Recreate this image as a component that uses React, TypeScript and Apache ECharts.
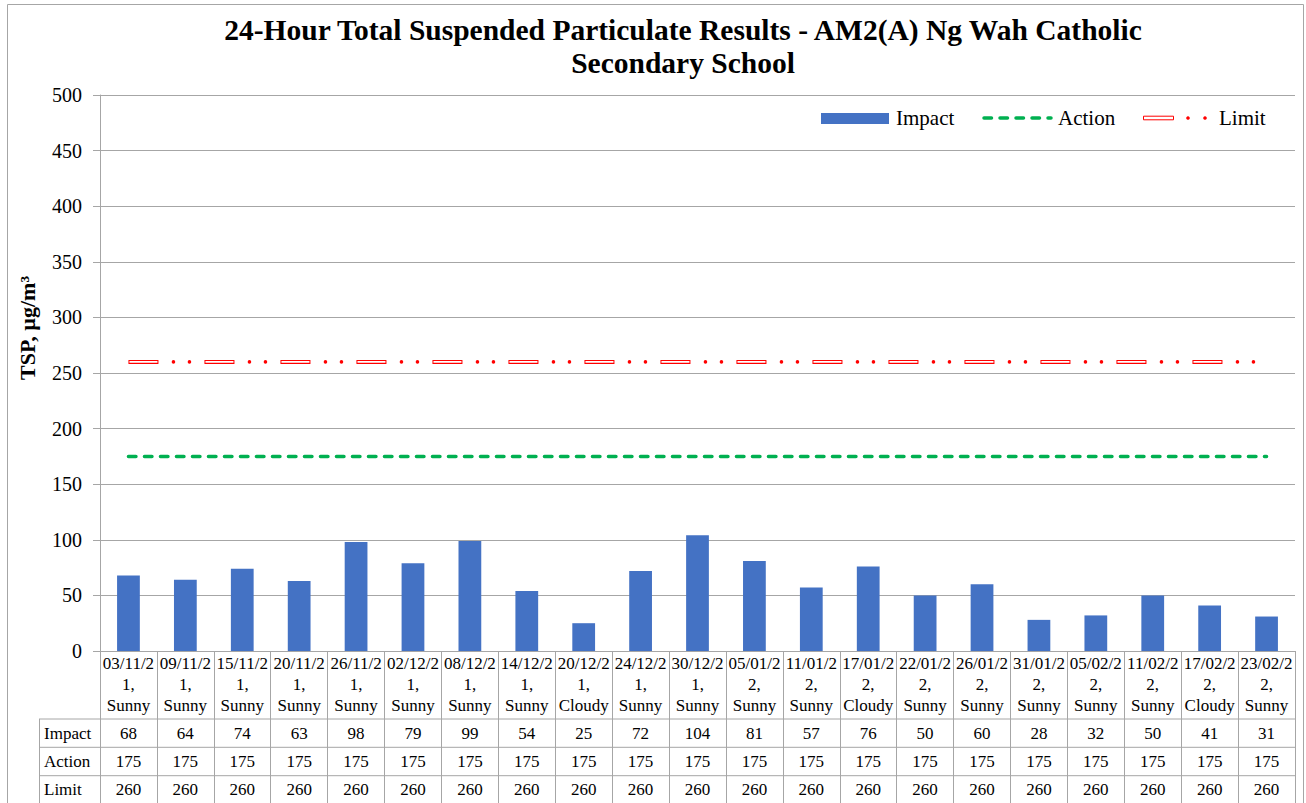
import React, { useEffect, useRef } from "react";
import * as echarts from "echarts";

const dates = ["03/11/21", "09/11/21", "15/11/21", "20/11/21", "26/11/21", "02/12/21", "08/12/21", "14/12/21", "20/12/21", "24/12/21", "30/12/21", "05/01/22", "11/01/22", "17/01/22", "22/01/22", "26/01/22", "31/01/22", "05/02/22", "11/02/22", "17/02/22", "23/02/22"];
const weather = ["Sunny", "Sunny", "Sunny", "Sunny", "Sunny", "Sunny", "Sunny", "Sunny", "Cloudy", "Sunny", "Sunny", "Sunny", "Sunny", "Cloudy", "Sunny", "Sunny", "Sunny", "Sunny", "Sunny", "Cloudy", "Sunny"];
const impact = [68, 64, 74, 63, 98, 79, 99, 54, 25, 72, 104, 81, 57, 76, 50, 60, 28, 32, 50, 41, 31];
const action = [175, 175, 175, 175, 175, 175, 175, 175, 175, 175, 175, 175, 175, 175, 175, 175, 175, 175, 175, 175, 175];
const limit = [260, 260, 260, 260, 260, 260, 260, 260, 260, 260, 260, 260, 260, 260, 260, 260, 260, 260, 260, 260, 260];
const yTicks = { min: 0, max: 500, interval: 50 };

const FONT = "'Liberation Serif', 'Times New Roman', serif";
const GRAY = "#a6a6a6";

export default function App() {
  const ref = useRef<HTMLDivElement>(null);
  useEffect(() => {
    const chart = echarts.init(ref.current!, null, { renderer: "svg" });
    const labels = dates.map((d, i) => d.slice(0, 7) + "\n" + d.slice(7) + ",\n" + weather[i]);
    chart.setOption({
      animation: false,
      backgroundColor: "#fff",
      title: {
        text: "24-Hour Total Suspended Particulate Results - AM2(A) Ng Wah Catholic\nSecondary School",
        left: 678,
        top: 8,
        textAlign: "center",
        textStyle: { fontFamily: FONT, fontSize: 29.5, fontWeight: "bold", lineHeight: 33, color: "#000" },
      },
      grid: { left: 100, right: 11, top: 95, bottom: 152, containLabel: false },
      xAxis: {
        type: "category",
        data: labels,
        boundaryGap: true,
        axisLine: { lineStyle: { color: GRAY, width: 1 } },
        axisTick: { show: true, interval: 0, length: 155, lineStyle: { color: GRAY, width: 1 } },
        axisLabel: { interval: 0, margin: 2, fontFamily: FONT, fontSize: 17, lineHeight: 21, color: "#000" },
        splitLine: { show: false },
      },
      yAxis: {
        type: "value",
        min: yTicks.min,
        max: yTicks.max,
        interval: yTicks.interval,
        axisLine: { show: true, lineStyle: { color: GRAY, width: 1 } },
        axisTick: { show: true, length: 7, lineStyle: { color: GRAY } },
        axisLabel: { fontFamily: FONT, fontSize: 20, color: "#000", margin: 18 },
        splitLine: { lineStyle: { color: GRAY, width: 1 } },
      },
      series: [
        { name: "Impact", type: "bar", data: impact, barWidth: "40%", itemStyle: { color: "#4472C4" } },
        {
          name: "Action", type: "line", data: action, symbol: "none", silent: true,
          lineStyle: { color: "#00B050", width: 3.5, type: [7.5, 8.5], cap: "round" },
        },
        {
          name: "Limit", type: "line", data: limit, symbol: "none", silent: true,
          lineStyle: { color: "#FF0000", width: 4, type: [30, 46], cap: "butt" },
        },
        {
          name: "Limit inner", type: "line", data: limit, symbol: "none", silent: true,
          lineStyle: { color: "#FFFFFF", width: 1.6, type: [28, 48], dashOffset: -1, cap: "butt" },
        },
        {
          name: "Limit dots", type: "line", data: limit, symbol: "none", silent: true,
          lineStyle: { color: "#FF0000", width: 3.6, type: [0.01, 15.99, 0.01, 59.99], dashOffset: 31, cap: "round" },
        },
      ],
    });

    const xs = dates.map((_, i) => chart.convertToPixel({ xAxisIndex: 0 }, i) as number);
    const half = (xs[1] - xs[0]) / 2;
    const right = xs[xs.length - 1] + half;
    const rows = [
      { name: "Impact", vals: impact, y: 733 },
      { name: "Action", vals: action, y: 761 },
      { name: "Limit", vals: limit, y: 789 },
    ];
    const lineYs = [719, 747.3, 775.7, 804];
    const g: any[] = [];
    g.push({ type: "rect", shape: { x: 7.5, y: 4.5, width: 1296, height: 820 }, style: { fill: "none", stroke: GRAY, lineWidth: 1 }, z: -1 });
    lineYs.forEach((y) => g.push({ type: "line", shape: { x1: 39, y1: y, x2: right, y2: y }, style: { stroke: GRAY, lineWidth: 1 } }));
    g.push({ type: "line", shape: { x1: 39.5, y1: 719, x2: 39.5, y2: 810 }, style: { stroke: GRAY, lineWidth: 1 } });
    rows.forEach((r) => {
      g.push({ type: "text", x: 44, y: r.y, style: { text: r.name, font: `17px ${FONT}`, fill: "#000", verticalAlign: "middle", align: "left" } });
      r.vals.forEach((v, i) =>
        g.push({ type: "text", x: xs[i], y: r.y, style: { text: String(v), font: `17px ${FONT}`, fill: "#000", verticalAlign: "middle", align: "center" } })
      );
    });
    // y-axis title
    g.push({ type: "text", x: 27, y: 328, rotation: Math.PI / 2, style: { text: "TSP, µg/m³", font: `bold 22px ${FONT}`, fill: "#000", align: "center", verticalAlign: "middle" } });
    // legend
    g.push({ type: "rect", shape: { x: 821, y: 113, width: 68, height: 11 }, style: { fill: "#4472C4" } });
    g.push({ type: "text", x: 896, y: 118, style: { text: "Impact", font: `21px ${FONT}`, fill: "#000", verticalAlign: "middle" } });
    g.push({ type: "line", shape: { x1: 984, y1: 118, x2: 1051, y2: 118 }, style: { stroke: "#00B050", lineWidth: 3.5, lineDash: [7.5, 8.5], lineCap: "round" } });
    g.push({ type: "text", x: 1058, y: 118, style: { text: "Action", font: `21px ${FONT}`, fill: "#000", verticalAlign: "middle" } });
    g.push({ type: "rect", shape: { x: 1143.5, y: 116.2, width: 30, height: 3.6 }, style: { fill: "#fff", stroke: "#FF0000", lineWidth: 1 } });
    g.push({ type: "circle", shape: { cx: 1188, cy: 118, r: 1.8 }, style: { fill: "#FF0000" } });
    g.push({ type: "circle", shape: { cx: 1205, cy: 118, r: 1.8 }, style: { fill: "#FF0000" } });
    g.push({ type: "text", x: 1219, y: 118, style: { text: "Limit", font: `21px ${FONT}`, fill: "#000", verticalAlign: "middle" } });
    chart.setOption({ graphic: g });
    return () => chart.dispose();
  }, []);
  return <div ref={ref} style={{ position: "fixed", left: 0, top: 0, width: 1306, height: 803, background: "#fff" }} />;
}
